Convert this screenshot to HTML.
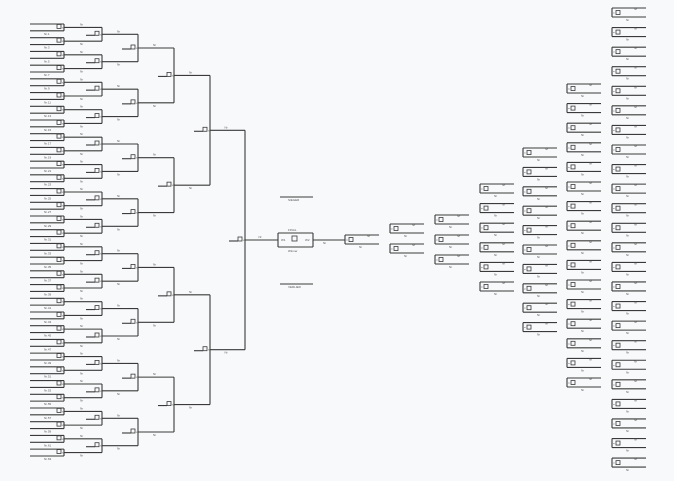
<!DOCTYPE html>
<html><head><meta charset="utf-8"><style>
html,body{margin:0;padding:0;background:#f8f9fb;}
svg{display:block;}
text{font-family:"Liberation Sans",sans-serif;font-size:3px;fill:#555;}
</style></head><body>
<svg id="s" width="674" height="481" viewBox="0 0 674 481" xmlns="http://www.w3.org/2000/svg"></svg>
<script>
var s=document.getElementById('s'),o='';
function L(x1,y1,x2,y2){o+='<line x1="'+x1+'" y1="'+y1+'" x2="'+x2+'" y2="'+y2+'" stroke="#3a3a3a" stroke-width="1.1"/>';}
function R(x,y,w,h){o+='<rect x="'+x+'" y="'+y+'" width="'+w+'" height="'+h+'" fill="none" stroke="#3a3a3a" stroke-width="0.8"/>';}
function T(x,y,t){o+='<text x="'+x+'" y="'+y+'">'+t+'</text>';}
var X=[30,64,102,138,174,210,245];
var ys=[];for(var i=0;i<64;i++){ys.push(24+i*6.857);L(30,ys[i],64,ys[i]);if(i%2)T(44,ys[i]+4,'Nr.'+i);}
for(var l=1;l<=6;l++){var n=[];for(var i=0;i<ys.length;i+=2){var a=ys[i],b=ys[i+1],m=(a+b)/2;L(X[l],a,X[l],b);R(X[l]-7,m-3,4,4);if(l>1)L(X[l]-16,m+1,X[l]-7,m+1);T(X[l]-2,m+1,'x');var x2=l<6?X[l+1]:278;L(X[l],m,x2,m);T((X[l]+x2)/2-3,m+(i%4?4:-2),'Nr');n.push(m);}ys=n;}
L(278,233,313,233);L(278,247,313,247);L(278,233,278,247);L(313,233,313,247);R(292,236,5,5);T(288,231,'FINAL');T(288,252,'Winner');T(281,241,'W1');T(305,241,'W2');
L(313,240,345,240);T(323,244,'Nr');
L(280,197,313,197);T(288,201,'SIEGER');L(280,284,313,284);T(288,288,'VERLIER');
function B(x,y){L(x,y,x+34,y);L(x,y,x,y+9);L(x,y+9,x+34,y+9);R(x+4,y+2.5,4,4);T(x+1,y+6,'=');T(x+22,y+2,'Nr');T(x+14,y+13,'Nr');}
B(345,235);
B(390,224);B(390,244);
[215,235,255].forEach(function(y){B(435,y);});
for(var i=0;i<6;i++)B(480,184+i*19.6);
for(var i=0;i<10;i++)B(523,148+i*19.4);
for(var i=0;i<16;i++)B(567,84+i*19.6);
for(var i=0;i<24;i++)B(612,8+i*19.57);
s.innerHTML=o;
</script>
</body></html>
